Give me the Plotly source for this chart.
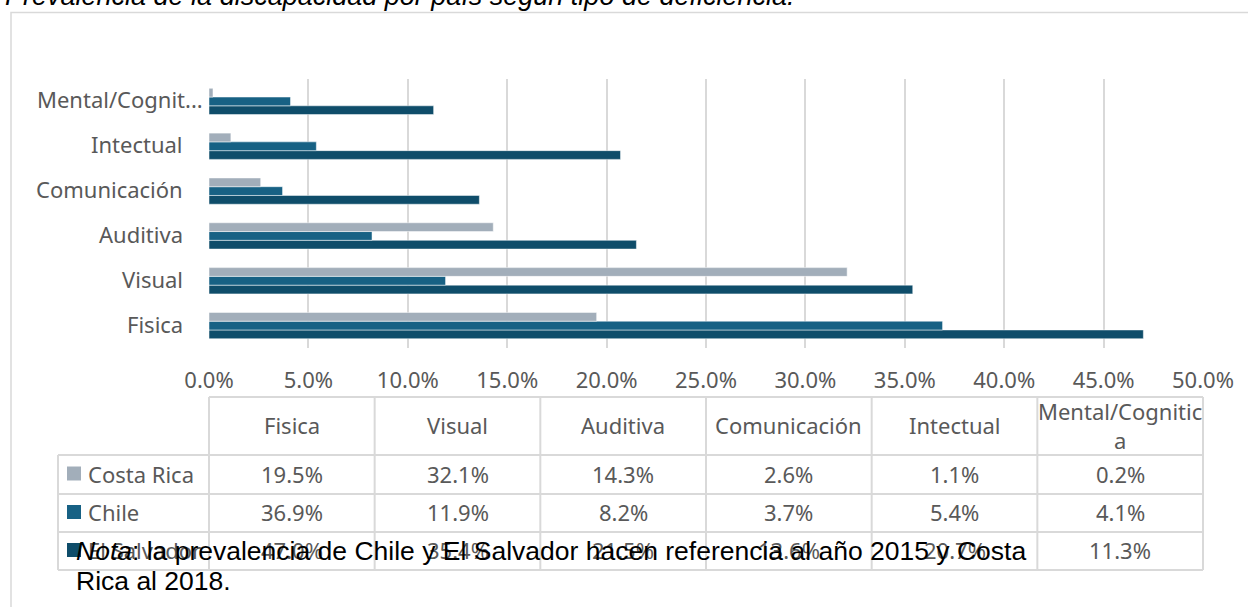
import plotly.graph_objects as go

# ---- data ----
categories = ["Fisica", "Visual", "Auditiva", "Comunicación", "Intectual", "Mental/Cognitica"]
countries = ["Costa Rica", "Chile", "El Salvador"]
costa_rica = [0.195, 0.321, 0.143, 0.026, 0.011, 0.002]
chile = [0.369, 0.119, 0.082, 0.037, 0.054, 0.041]
el_salvador = [0.470, 0.354, 0.215, 0.136, 0.207, 0.113]
x_ticks = [0.0, 0.05, 0.10, 0.15, 0.20, 0.25, 0.30, 0.35, 0.40, 0.45, 0.50]

title_text = "Prevalencia de la discapacidad por país según tipo de deficiencia."
note_lines = ["<i>Nota</i>: la prevalencia de Chile y El Salvador hacen referencia al año 2015 y Costa",
              "Rica al 2018."]

series = {"Costa Rica": costa_rica, "Chile": chile, "El Salvador": el_salvador}
colors = {"Costa Rica": "#A2AEBA", "Chile": "#176184", "El Salvador": "#0F4D6A"}

# ---- geometry (pixels) ----
W, H = 1248, 607
L, R, T, B = 209, 1203, 79, 348
GRID = "#D9D9D9"
TXT = "#595959"
FONT = "Noto Sans"
FS = 22
SERIF_FREE = "Liberation Sans"


def px(x):
    return (x - L) / (R - L)


def py(y):
    return (B - y) / (B - T)


fig = go.Figure()

# El Salvador first so it sits at the bottom of each group
for name in reversed(countries):
    fig.add_trace(go.Bar(
        y=categories, x=series[name], name=name, orientation="h",
        marker=dict(color=colors[name], line=dict(color="rgba(255,255,255,0.7)", width=0.7)),
        showlegend=False, hoverinfo="skip",
    ))

annotations = []
shapes = []

# category labels on the left of the plot
for c in categories:
    label = c if len(c) <= 13 else c[:13] + "..."
    right = 205 if label != c else 185
    annotations.append(dict(
        x=px(right), xref="paper", y=c, yref="y", text=label, showarrow=False,
        xanchor="right", yanchor="middle", yshift=2,
        font=dict(family=FONT, size=FS, color=TXT),
    ))

# ---- data table under the axis ----
ncol = len(categories)
colw = (R - L) / ncol
head_top, row_tops = 397, [455, 494, 532, 570]
line = dict(color=GRID, width=2)

shapes.append(dict(type="line", xref="paper", yref="paper",
                   x0=px(L), x1=px(R), y0=py(head_top), y1=py(head_top), line=line))
for yy in row_tops:
    shapes.append(dict(type="line", xref="paper", yref="paper",
                       x0=px(58), x1=px(R), y0=py(yy), y1=py(yy), line=line))
shapes.append(dict(type="line", xref="paper", yref="paper",
                   x0=px(58), x1=px(58), y0=py(row_tops[0]), y1=py(row_tops[-1]), line=line))
for i in range(ncol + 1):
    xx = L + i * colw
    shapes.append(dict(type="line", xref="paper", yref="paper",
                       x0=px(xx), x1=px(xx), y0=py(head_top), y1=py(row_tops[-1]), line=line))

# header row
for i, c in enumerate(categories):
    head = c if len(c) <= 15 else c[:15] + "<br>" + c[15:]
    annotations.append(dict(
        x=px(L + (i + 0.5) * colw), xref="paper", y=py((head_top + row_tops[0]) / 2 - 1), yref="paper",
        text=head, showarrow=False, xanchor="center", yanchor="middle",
        font=dict(family=FONT, size=FS, color=TXT),
    ))

# one row per country, with a colour key in the first cell
for r, name in enumerate(countries):
    yc = (row_tops[r] + row_tops[r + 1]) / 2 - 1
    shapes.append(dict(type="rect", xref="paper", yref="paper",
                       x0=px(67), x1=px(81), y0=py(yc - 7), y1=py(yc + 7),
                       fillcolor=colors[name], line=dict(width=0)))
    annotations.append(dict(
        x=px(86), xref="paper", y=py(yc), yref="paper", text=name, showarrow=False,
        xanchor="left", yanchor="middle", font=dict(family=FONT, size=FS, color=TXT),
    ))
    for i, v in enumerate(series[name]):
        annotations.append(dict(
            x=px(L + (i + 0.5) * colw), xref="paper", y=py(yc), yref="paper",
            text=f"{v * 100:.1f}%", showarrow=False, xanchor="center", yanchor="middle",
            font=dict(family=FONT, size=FS, color=TXT),
        ))

# outer frame of the chart area
shapes.append(dict(type="rect", xref="paper", yref="paper",
                   x0=px(11), x1=px(W + 20), y0=py(12.5), y1=py(H + 20),
                   line=dict(color=GRID, width=1.5), fillcolor="rgba(0,0,0,0)", layer="below"))

# title and note
annotations.append(dict(
    x=px(3), xref="paper", y=py(-3.5), yref="paper", text=f"<i>{title_text}</i>",
    showarrow=False, xanchor="left", yanchor="middle",
    font=dict(family=SERIF_FREE, size=27, color="black"),
))
for k, (txt, ymid) in enumerate(zip(note_lines, [551, 581])):
    annotations.append(dict(
        x=px(74), xref="paper", y=py(ymid), yref="paper", text=txt, align="left",
        showarrow=False, xanchor="left", yanchor="middle",
        font=dict(family=SERIF_FREE, size=26.5, color="black"),
    ))

fig.update_layout(
    width=W, height=H,
    margin=dict(l=L, r=W - R, t=T, b=H - B, pad=0),
    paper_bgcolor="white", plot_bgcolor="white",
    barmode="group", bargap=0.414, bargroupgap=0,
    font=dict(family=FONT, size=FS, color=TXT),
    annotations=annotations, shapes=shapes,
    xaxis=dict(range=[0, 0.5], tickvals=x_ticks, tickformat=".1%", showgrid=True,
               gridcolor=GRID, gridwidth=1.5, zeroline=False, showline=False, ticks="",
               ticklabelstandoff=17, tickfont=dict(family=FONT, size=FS, color=TXT)),
    yaxis=dict(categoryorder="array", categoryarray=categories, showticklabels=False,
               showgrid=False, zeroline=False, showline=False, ticks=""),
)

fig.write_html("out.html")
